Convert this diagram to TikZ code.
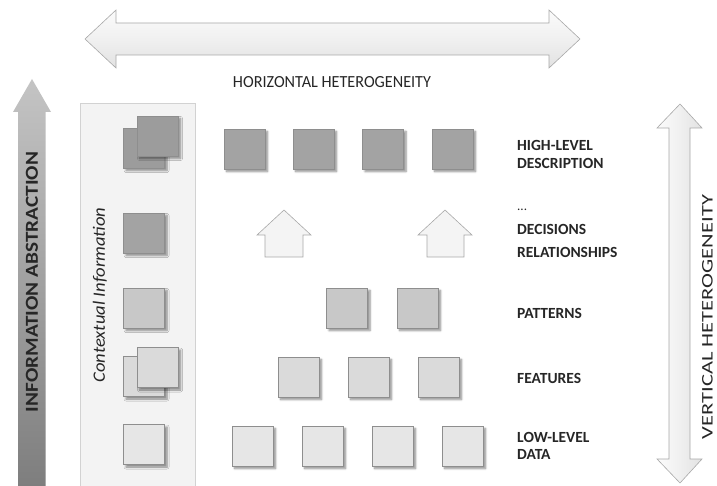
\documentclass[tikz,border=0pt]{standalone}
\usepackage{fontspec}
\setmainfont{Carlito}
\usetikzlibrary{shadows.blur}

\definecolor{ink}{HTML}{262626}
\definecolor{edge}{HTML}{8E8E8E}
\definecolor{lvA}{HTML}{9C9C9C}
\definecolor{lvB}{HTML}{A3A3A3}
\definecolor{lvC}{HTML}{C8C8C8}
\definecolor{lvD}{HTML}{DADADA}
\definecolor{lvE}{HTML}{E6E6E6}
\definecolor{panel}{HTML}{F3F3F3}
\definecolor{paneledge}{HTML}{D2D2D2}
\definecolor{hollow}{HTML}{F4F4F4}
\definecolor{hollowedge}{HTML}{A8A8A8}
\definecolor{barlight}{HTML}{FBFBFB}
\definecolor{barmid}{HTML}{F0F0F0}
\definecolor{bardark}{HTML}{E2E2E2}
\definecolor{abstrtop}{HTML}{C4C4C4}
\definecolor{abstrbot}{HTML}{7E7E7E}

\tikzset{
  tile/.style={rectangle, inner sep=0pt, minimum width=41pt, minimum height=40pt,
    draw=edge, line width=0.6pt,
    blur shadow={shadow xshift=2.5pt, shadow yshift=-2.5pt, shadow blur steps=6,
      shadow blur radius=2pt, shadow opacity=45}},
  label/.style={anchor=west, inner sep=0pt, text=ink, font=\bfseries\fontsize{15.5}{18}\selectfont},
  caption/.style={inner sep=0pt, text=ink},
  hollowarrow/.style={fill=hollow, draw=hollowedge, line width=0.6pt},
}

\begin{document}
\begin{tikzpicture}[x=1pt, y=-1pt]
\useasboundingbox (0,0) rectangle (717,486);

% horizontal double arrow
\path[draw=hollowedge, line width=0.6pt, top color=barlight, bottom color=bardark,
      middle color=barmid]
  (85,39) -- (116,10) -- (116,23) -- (549,23) -- (549,10) -- (580,39)
  -- (549,68) -- (549,55) -- (116,55) -- (116,68) -- cycle;
\node[caption] (horiz) at (332,82)
  {\resizebox{198pt}{11pt}{HORIZONTAL HETEROGENEITY}};

% vertical double arrow
\path[draw=hollowedge, line width=0.6pt, left color=barlight, right color=bardark,
      middle color=barmid]
  (680,104) -- (702,128) -- (690,128) -- (690,459) -- (702,459) -- (680,483)
  -- (657,459) -- (669,459) -- (669,128) -- (657,128) -- cycle;
\node[caption, rotate=90] (vert) at (707.5,317)
  {\resizebox{244pt}{10.5pt}{VERTICAL HETEROGENEITY}};

% abstraction arrow
\path[top color=abstrtop, bottom color=abstrbot]
  (32,79) -- (51,112) -- (45.5,112) -- (45.5,486) -- (18,486) -- (18,112)
  -- (13,112) -- cycle;
\node[caption, rotate=90] (abstr) at (32,282)
  {\resizebox{260pt}{12pt}{\bfseries INFORMATION ABSTRACTION}};

% context panel
\path[fill=panel, draw=paneledge, line width=0.6pt] (80,103) rectangle (195,490);
\node[caption, rotate=90] (ctx) at (100,295)
  {\resizebox{175pt}{12pt}{\itshape Contextual Information}};

% context column
\node[tile, fill=lvA] (c1b) at (144,148) {};
\node[tile, fill=lvA] (c1f) at (157.5,136) {};
\node[tile, fill=lvB] (c2) at (144,233) {};
\node[tile, fill=lvC] (c3) at (144,308) {};
\node[tile, fill=lvD] (c4b) at (144,376.5) {};
\node[tile, fill=lvD] (c4f) at (157.5,367.5) {};
\node[tile, fill=lvE] (c5) at (144,444.5) {};

% high-level row
\node[tile, fill=lvB] (h1) at (244.5,149) {};
\node[tile, fill=lvB] (h2) at (313.5,149) {};
\node[tile, fill=lvB] (h3) at (383,149) {};
\node[tile, fill=lvB] (h4) at (452.5,149) {};

% upward arrows
\path[hollowarrow]
  (284,210) -- (311,235) -- (303,235) -- (303,257) -- (265,257) -- (265,235)
  -- (257,235) -- cycle;
\path[hollowarrow]
  (445,210) -- (472,235) -- (464,235) -- (464,257) -- (427,257) -- (427,235)
  -- (418,235) -- cycle;

% patterns row
\node[tile, fill=lvC] (p1) at (347,308) {};
\node[tile, fill=lvC] (p2) at (417.5,308) {};

% features row
\node[tile, fill=lvD] (f1) at (298.5,377) {};
\node[tile, fill=lvD] (f2) at (368.5,377) {};
\node[tile, fill=lvD] (f3) at (438.5,377) {};

% low-level row
\node[tile, fill=lvE] (l1) at (252.5,446) {};
\node[tile, fill=lvE] (l2) at (322.5,446) {};
\node[tile, fill=lvE] (l3) at (392.5,446) {};
\node[tile, fill=lvE] (l4) at (462.5,446) {};

% level labels
\node[label] (t1) at (517,145) {HIGH-LEVEL};
\node[label] (t2) at (517,163) {DESCRIPTION};
\node[label, font=\fontsize{13}{15}\selectfont] (t3) at (517,210) {...};
\node[label] (t4) at (517,229) {DECISIONS};
\node[label] (t5) at (517,252) {RELATIONSHIPS};
\node[label] (t6) at (517,313) {PATTERNS};
\node[label] (t7) at (517,378) {FEATURES};
\node[label] (t8) at (517,437) {LOW-LEVEL};
\node[label] (t9) at (517,454) {DATA};
\end{tikzpicture}
\end{document}
